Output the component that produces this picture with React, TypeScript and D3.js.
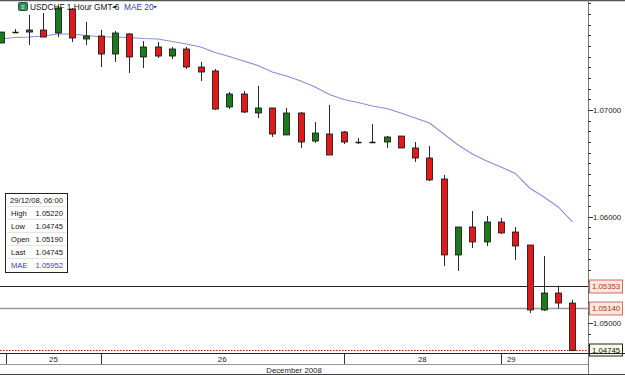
import React from 'react';
import * as d3 from 'd3';

// USDCHF 1 hour candles
const open = [1.07628, 1.07725, 1.07731, 1.0775, 1.07722, 1.07947, 1.07666, 1.07694, 1.07525, 1.07713,
  1.07497, 1.07591, 1.07506, 1.07572, 1.07403, 1.07366, 1.07028, 1.0715, 1.06972, 1.07019,
  1.06766, 1.06972, 1.06709, 1.06775, 1.06794, 1.067, 1.06703, 1.067, 1.06756, 1.06644,
  1.0655, 1.06353, 1.05641, 1.05903, 1.05763, 1.0595, 1.05856, 1.05734, 1.05125, 1.05284, 1.0519];
const high = [1.07731, 1.07759, 1.07891, 1.07909, 1.07975, 1.07956, 1.07825, 1.0775, 1.07741, 1.07722,
  1.07647, 1.07638, 1.07591, 1.07591, 1.0745, 1.07384, 1.07169, 1.07178, 1.07225, 1.07019,
  1.07019, 1.06981, 1.06888, 1.07047, 1.06803, 1.06738, 1.06869, 1.06756, 1.06756, 1.067,
  1.06663, 1.06391, 1.05903, 1.06053, 1.06006, 1.05988, 1.05903, 1.05734, 1.05631, 1.05353, 1.0522];
const low = [1.07628, 1.07722, 1.07609, 1.07684, 1.07684, 1.07638, 1.07609, 1.07403, 1.0745, 1.07347,
  1.07394, 1.07488, 1.07478, 1.07384, 1.07272, 1.07, 1.07009, 1.06972, 1.06925, 1.06747,
  1.06766, 1.06644, 1.06691, 1.06578, 1.06681, 1.06681, 1.06691, 1.06644, 1.06644, 1.06513,
  1.06334, 1.05538, 1.05491, 1.05706, 1.05725, 1.05838, 1.05594, 1.05097, 1.05116, 1.0514, 1.04745];
const close = [1.07731, 1.07731, 1.0775, 1.07684, 1.07956, 1.07675, 1.07694, 1.07525, 1.07722, 1.07497,
  1.07591, 1.07506, 1.07572, 1.07403, 1.07356, 1.07009, 1.0715, 1.06981, 1.07019, 1.06775,
  1.06972, 1.067, 1.06784, 1.06578, 1.067, 1.067, 1.067, 1.06747, 1.06644, 1.0655,
  1.06344, 1.05641, 1.05903, 1.05763, 1.0595, 1.05847, 1.05725, 1.05125, 1.05284, 1.0519, 1.04745];
// MAE 20
const mae = [1.07666, 1.0768, 1.07684, 1.07694, 1.07713, 1.07713, 1.07698, 1.07687, 1.07684, 1.0768,
  1.0767, 1.07666, 1.07642, 1.07619, 1.07591, 1.07539, 1.07502, 1.07459, 1.07417, 1.07356,
  1.07319, 1.07272, 1.07216, 1.07145, 1.07098, 1.0707, 1.07038, 1.07014, 1.06972, 1.06925,
  1.06878, 1.06775, 1.06672, 1.06588, 1.06522, 1.06466, 1.06405, 1.06269, 1.06184, 1.06091, 1.05952];

const dayLabels = ['', '25', '26', '28', '29'];
const dayStarts = [-0.4, 0.4, 7, 24, 35];
const yLabels = [1.05, 1.06, 1.07];
const levelHigh = 1.05353;
const levelLow = 1.0514;
const lastPrice = 1.04745;
const monthLabel = 'December 2008';
const info = [
  ['High', '1.05220'],
  ['Low', '1.04745'],
  ['Open', '1.05190'],
  ['Last', '1.04745'],
  ['MAE', '1.05952'],
];

const W = 625;
const H = 375;
const plotR = 588;
const plotB = 353;
const font = '"Liberation Sans", Arial, sans-serif';

export default function App() {
  const x = d3.scaleLinear().domain([0, 41]).range([0.5, 586.8]);
  const y = d3.scaleLinear().domain([1.07, 1.05]).range([110, 323.3]);
  const fmt = d3.format('.5f');
  const minor = d3.range(1048, 1081).map((v) => v / 1000);
  const line = d3.line<number>().x((_, i) => x(i)).y((d) => y(d));
  const px = (v: number) => Math.round(v) + 0.5;

  const dayEnds = dayStarts.slice(1).concat([41]);

  return (
    <svg width={W} height={H} style={{ position: 'absolute', left: 0, top: 0, background: '#fff' }} fontFamily={font}>
      <defs>
        <clipPath id="plot">
          <rect x={0} y={1} width={plotR} height={plotB - 1} />
        </clipPath>
      </defs>
      <rect x={0} y={0} width={W} height={H} fill="#fff" />

      {/* level lines */}
      <line x1={0} x2={plotR} y1={px(y(levelHigh))} y2={px(y(levelHigh))} stroke="#222" />
      <line x1={0} x2={plotR} y1={px(y(levelLow))} y2={px(y(levelLow))} stroke="#999" strokeWidth={1.5} />
      <line x1={0} x2={plotR} y1={px(y(lastPrice))} y2={px(y(lastPrice))} stroke="#c00000" strokeDasharray="1.5,1.5" />

      <g clipPath="url(#plot)">
        <path d={line(mae) || ''} fill="none" stroke="#8c8cd2" strokeWidth={1.1} />
        {open.map((o, i) => {
          const c = close[i];
          const cx = px(x(i));
          const top = Math.min(y(o), y(c));
          const bot = Math.max(y(o), y(c));
          const doji = bot - top < 1.5;
          const up = c > o;
          return (
            <g key={i}>
              <line x1={cx} x2={cx} y1={y(high[i])} y2={y(low[i])} stroke="#2a2a2a" />
              {doji ? (
                <line x1={cx - 3} x2={cx + 3} y1={px(top)} y2={px(top)} stroke="#111" strokeWidth={1.5} />
              ) : (
                <rect x={cx - 3} y={top} width={6} height={bot - top} fill={up ? '#1b7a1b' : '#e01a1a'} stroke="#111" strokeWidth={0.8} />
              )}
            </g>
          );
        })}
      </g>

      {/* title */}
      <rect x={18.5} y={2.5} width={9} height={8} rx={1} fill="#2e8b57" stroke="#1d5e3a" />
      <text x={23} y={9} fontSize={6} fill="#fff" textAnchor="middle" fontWeight="bold">≡</text>
      <text x={30} y={10} fontSize={8.3} fill="#111">USDCHF 1 Hour GMT-6</text>
      <path d="M113,6 L117,6 L115,8.5 Z" fill="#111" />
      <text x={124} y={10} fontSize={8.3} fill="#3a3ab0">MAE 20</text>
      <path d="M153,6 L157,6 L155,8.5 Z" fill="#3a3ab0" />

      {/* info box */}
      <g>
        <rect x={5.5} y={193.5} width={62} height={79} fill="#fff" stroke="#222" />
        {d3.range(1, 6).map((k) => (
          <line key={k} x1={7} x2={66} y1={px(193 + k * 13)} y2={px(193 + k * 13)} stroke="#e4e4e4" />
        ))}
        <text x={36.5} y={203} fontSize={7.6} textAnchor="middle" fill="#111">29/12/08, 06:00</text>
        {info.map(([k, v], r) => (
          <g key={k} fill={k === 'MAE' ? '#3a3ab0' : '#111'} fontSize={7.6}>
            <text x={11} y={216 + r * 13}>{k}</text>
            <text x={63} y={216 + r * 13} textAnchor="end">{v}</text>
          </g>
        ))}
      </g>

      {/* frame */}
      <line x1={0} x2={W} y1={0.5} y2={0.5} stroke="#555" strokeWidth={1.5} />
      <line x1={plotR + 0.5} x2={plotR + 0.5} y1={0} y2={H} stroke="#777" />

      {/* y axis */}
      {minor.map((v) => (
        <line key={v} x1={plotR} x2={plotR + 3} y1={px(y(v))} y2={px(y(v))} stroke="#333" />
      ))}
      {yLabels.map((v) => (
        <g key={v}>
          <line x1={plotR} x2={plotR + 5} y1={px(y(v))} y2={px(y(v))} stroke="#333" />
          <text x={593} y={y(v) + 3} fontSize={7.8} fill="#222">{fmt(v)}</text>
        </g>
      ))}
      {[levelHigh, levelLow].map((v) => (
        <g key={v}>
          <rect x={589.5} y={px(y(v)) - 6.5} width={33} height={13} fill="#fbe6dc" stroke="#c8706a" />
          <text x={592} y={y(v) + 3} fontSize={7.8} fill="#b03a20">{fmt(v)}</text>
        </g>
      ))}
      <rect x={589.5} y={px(y(lastPrice)) - 6.5} width={33} height={12} fill="#fdfde6" stroke="#222" />
      <text x={592} y={y(lastPrice) + 3} fontSize={7.8} fill="#111">{fmt(lastPrice)}</text>

      {/* x axis */}
      <line x1={0} x2={W} y1={plotB + 0.5} y2={plotB + 0.5} stroke="#222" />
      <line x1={0} x2={plotR} y1={364.5} y2={364.5} stroke="#999" />
      <line x1={0} x2={W} y1={374.5} y2={374.5} stroke="#444" />
      {dayStarts.map((s, k) => {
        const x0 = Math.max(0, x(s));
        const x1 = Math.min(plotR, x(dayEnds[k]));
        return (
          <g key={k}>
            {k > 0 && <line x1={px(x(s))} x2={px(x(s))} y1={plotB} y2={364} stroke="#333" />}
            {dayLabels[k] && (
              <text x={k === 4 ? x0 + 6 : (x0 + x1) / 2} y={362} fontSize={7.8} textAnchor={k === 4 ? 'start' : 'middle'} fill="#222">
                {dayLabels[k]}
              </text>
            )}
          </g>
        );
      })}
      <text x={294} y={372.5} fontSize={7.8} textAnchor="middle" fill="#222">{monthLabel}</text>
    </svg>
  );
}
